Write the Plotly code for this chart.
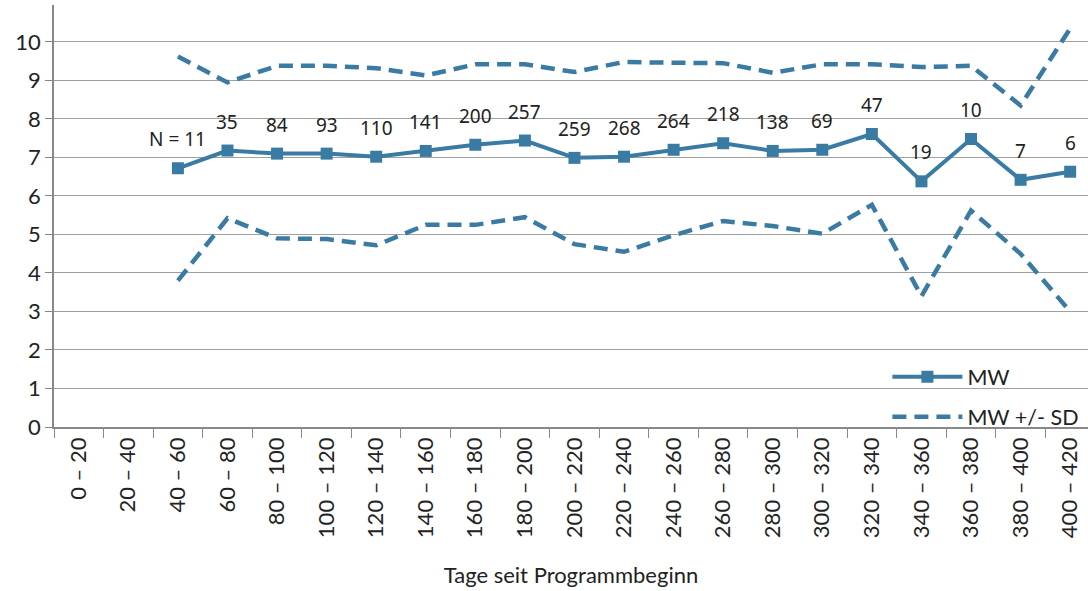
import plotly.graph_objects as go

categories = ["0 – 20", "20 – 40", "40 – 60", "60 – 80", "80 – 100", "100 – 120", "120 – 140",
              "140 – 160", "160 – 180", "180 – 200", "200 – 220", "220 – 240", "240 – 260",
              "260 – 280", "280 – 300", "300 – 320", "320 – 340", "340 – 360", "360 – 380",
              "380 – 400", "400 – 420"]
mean_vals = [None, None, 6.72, 7.18, 7.1, 7.1, 7.02, 7.17, 7.33, 7.44, 6.99, 7.02, 7.2,
             7.37, 7.17, 7.2, 7.61, 6.38, 7.48, 6.42, 6.63]
upper_vals = [None, None, 9.62, 8.95, 9.38, 9.38, 9.32, 9.13, 9.42, 9.42, 9.22, 9.48, 9.46,
              9.45, 9.2, 9.42, 9.42, 9.35, 9.38, 8.35, 10.35]
lower_vals = [None, None, 3.8, 5.42, 4.9, 4.88, 4.72, 5.25, 5.25, 5.45, 4.75, 4.55, 4.98,
              5.35, 5.22, 5.02, 5.77, 3.4, 5.62, 4.5, 3.0]
n_labels = [None, None, "N = 11", "35", "84", "93", "110", "141", "200", "257", "259", "268",
            "264", "218", "138", "69", "47", "19", "10", "7", "6"]

color = "#3A7BA4"
dash_style = "14px,8px"

fig = go.Figure()
fig.add_trace(go.Scatter(x=categories, y=mean_vals, mode="lines+markers", name="MW",
                         legendgroup="mw",
                         line=dict(color=color, width=4),
                         marker=dict(symbol="square", size=12, color=color)))
fig.add_trace(go.Scatter(x=categories, y=upper_vals, mode="lines", name="MW +/- SD",
                         legendgroup="sd",
                         line=dict(color=color, width=4.5, dash=dash_style)))
fig.add_trace(go.Scatter(x=categories, y=lower_vals, mode="lines", name="MW +/- SD",
                         legendgroup="sd", showlegend=False,
                         line=dict(color=color, width=4.5, dash=dash_style)))

for c, v, t in zip(categories, mean_vals, n_labels):
    if t is None:
        continue
    fig.add_annotation(x=c, y=v, text=t, showarrow=False, yshift=29,
                       font=dict(family="Noto Sans", size=19, color="#222"))

fig.update_layout(
    width=1088, height=591,
    margin=dict(l=54, r=0, t=5, b=164, autoexpand=False),
    paper_bgcolor="white", plot_bgcolor="white",
    font=dict(family="Lato", size=17, color="#222"),
    showlegend=True,
    legend=dict(x=0.806, y=0.1675, xanchor="left", yanchor="top",
                bgcolor="rgba(0,0,0,0)", font=dict(family="Lato", size=21.5, color="#222"),
                tracegroupgap=9, itemwidth=70),
    xaxis=dict(type="category", range=[-0.5, 20.36], tickson="boundaries",
               ticks="outside", ticklen=9, tickcolor="#888", tickangle=-90,
               showline=True, linecolor="#888", linewidth=1.5, showgrid=False,
               tickfont=dict(family="Lato", size=22),
               title=dict(text="Tage seit Programmbeginn", standoff=30,
                          font=dict(family="Lato", size=22))),
    yaxis=dict(range=[0, 10.96], tickvals=list(range(0, 11)), ticks="outside", ticklen=7,
               tickcolor="#888", showline=True, linecolor="#888", linewidth=1.5,
               showgrid=True, gridcolor="#a0a0a0", gridwidth=1.2, zeroline=False,
               tickfont=dict(family="Lato", size=22)),
)

fig.write_html("out.html", config={"displayModeBar": False},
               post_script="document.body.style.margin='0';")
